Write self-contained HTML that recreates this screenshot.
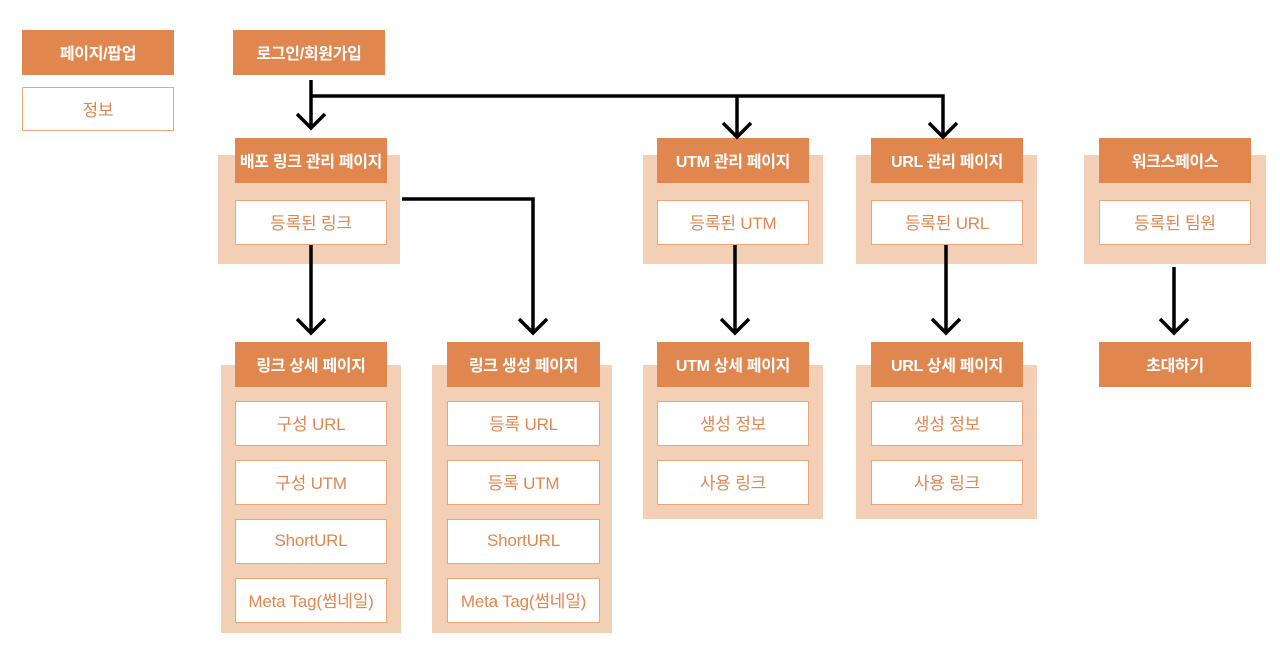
<!DOCTYPE html>
<html><head><meta charset="utf-8"><style>
body{margin:0;width:1280px;height:650px;background:#fff;position:relative;overflow:hidden;font-family:"Liberation Sans","Noto Sans CJK KR",sans-serif}
.c{position:absolute;background:#F2CFB5}
.h,.i{position:absolute;display:flex;align-items:center;justify-content:center;box-sizing:border-box;white-space:nowrap;padding-bottom:2px}
.h{background:#E0864F;color:#fff;font-weight:bold;font-size:16px;letter-spacing:-0.3px}
.i{background:#fff;border:1.5px solid #E9A77B;color:#E0864F;font-weight:normal;font-size:17px;letter-spacing:-0.2px}
svg{position:absolute;left:0;top:0}
</style></head><body>
<div class="h" style="left:22px;top:30px;width:152px;height:45px">페이지/팝업</div>
<div class="i" style="left:22px;top:87px;width:152px;height:44px">정보</div>
<div class="h" style="left:233px;top:30px;width:152px;height:45px">로그인/회원가입</div>

<div class="c" style="left:218px;top:155px;width:182px;height:109px"></div>
<div class="h" style="left:235px;top:138px;width:152px;height:45px">배포 링크 관리 페이지</div>
<div class="i" style="left:235px;top:200px;width:152px;height:45px">등록된 링크</div>

<div class="c" style="left:643px;top:155px;width:180px;height:109px"></div>
<div class="h" style="left:657px;top:138px;width:152px;height:45px">UTM 관리 페이지</div>
<div class="i" style="left:657px;top:200px;width:152px;height:45px">등록된 UTM</div>

<div class="c" style="left:856px;top:155px;width:181px;height:109px"></div>
<div class="h" style="left:871px;top:138px;width:152px;height:45px">URL 관리 페이지</div>
<div class="i" style="left:871px;top:200px;width:152px;height:45px">등록된 URL</div>

<div class="c" style="left:1084px;top:155px;width:182px;height:109px"></div>
<div class="h" style="left:1099px;top:138px;width:152px;height:45px">워크스페이스</div>
<div class="i" style="left:1099px;top:200px;width:152px;height:45px">등록된 팀원</div>

<div class="c" style="left:221px;top:365px;width:180px;height:268px"></div>
<div class="h" style="left:235px;top:342px;width:152px;height:45px">링크 상세 페이지</div>
<div class="i" style="left:235px;top:401px;width:152px;height:45px">구성 URL</div>
<div class="i" style="left:235px;top:460px;width:152px;height:45px">구성 UTM</div>
<div class="i" style="left:235px;top:519px;width:152px;height:45px">ShortURL</div>
<div class="i" style="left:235px;top:578px;width:152px;height:45px">Meta Tag(썸네일)</div>

<div class="c" style="left:432px;top:365px;width:180px;height:268px"></div>
<div class="h" style="left:447px;top:342px;width:153px;height:45px">링크 생성 페이지</div>
<div class="i" style="left:447px;top:401px;width:153px;height:45px">등록 URL</div>
<div class="i" style="left:447px;top:460px;width:153px;height:45px">등록 UTM</div>
<div class="i" style="left:447px;top:519px;width:153px;height:45px">ShortURL</div>
<div class="i" style="left:447px;top:578px;width:153px;height:45px">Meta Tag(썸네일)</div>

<div class="c" style="left:643px;top:365px;width:180px;height:154px"></div>
<div class="h" style="left:657px;top:342px;width:152px;height:45px">UTM 상세 페이지</div>
<div class="i" style="left:657px;top:401px;width:152px;height:45px">생성 정보</div>
<div class="i" style="left:657px;top:460px;width:152px;height:45px">사용 링크</div>

<div class="c" style="left:856px;top:365px;width:181px;height:154px"></div>
<div class="h" style="left:871px;top:342px;width:152px;height:45px">URL 상세 페이지</div>
<div class="i" style="left:871px;top:401px;width:152px;height:45px">생성 정보</div>
<div class="i" style="left:871px;top:460px;width:152px;height:45px">사용 링크</div>

<div class="h" style="left:1099px;top:342px;width:152px;height:45px">초대하기</div>

<svg width="1280" height="650" fill="none" stroke="#000" stroke-width="3.5">
<path d="M311 80V128M311 96H943V137M737 96V137"/>
<path d="M297 114L311 128L325 114M723 123L737 137L751 123M929 123L943 137L957 123"/>
<path d="M311 245V333M297 319L311 333L325 319"/>
<path d="M402 199H533V333M519 319L533 333L547 319"/>
<path d="M735 245V333M721 319L735 333L749 319"/>
<path d="M946 245V333M932 319L946 333L960 319"/>
<path d="M1174 267V333M1160 319L1174 333L1188 319"/>
</svg>
</body></html>
